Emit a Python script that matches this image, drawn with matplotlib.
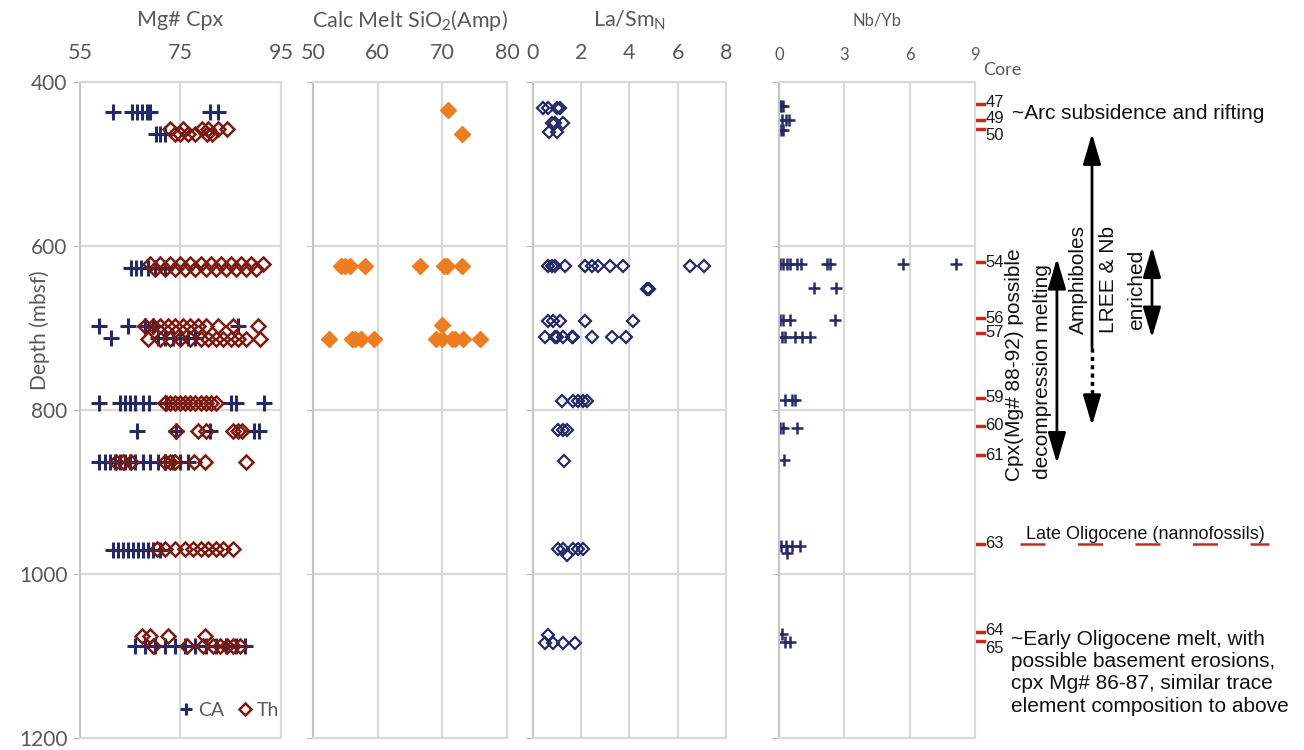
import matplotlib
matplotlib.use('Agg')
import matplotlib.pyplot as plt
import matplotlib.transforms as mtransforms

plt.rcParams['font.family'] = ['Lato', 'DejaVu Sans']
plt.rcParams['mathtext.default'] = 'regular'

# ---- data (depth in mbsf, value) ----
# Mg# Cpx, calc-alkaline (CA)
ca_depth = [437]*8 + [463]*3 + [627]*6 + [698]*5 + [712]*7 + [792]*11 + [826]*5 + [864]*15 + [971]*10 + [1088]*12
ca_mg = [61.6, 65.3, 66.3, 67.3, 68.3, 68.9, 80.8, 82.5,
         70.2, 70.9, 72.0,
         65.1, 66.1, 67.1, 68.5, 70.0, 72.0,
         58.7, 64.5, 68.0, 69.5, 86.4,
         61.2, 70.5, 72.0, 73.5, 75.0, 76.5, 78.0,
         58.7, 62.9, 64.0, 65.0, 66.0, 67.5, 68.8, 72.2, 85.0, 86.0, 91.7,
         66.3, 74.1, 80.8, 89.7, 90.7,
         58.7, 60.0, 61.0, 62.0, 63.0, 64.0, 65.0, 66.0, 67.5, 69.0, 70.5, 72.0, 73.5, 75.0, 76.5,
         61.6, 62.5, 63.5, 64.5, 65.5, 66.5, 67.5, 68.5, 69.5, 70.9,
         65.9, 68.0, 70.0, 72.0, 74.0, 76.0, 78.0, 80.0, 82.0, 84.0, 86.0, 87.8]

# Mg# Cpx, tholeiitic (Th)
th_depth = [457]*6 + [463]*6 + [622]*12 + [628]*11 + [697]*12 + [713]*13 + [792]*11 + [826]*6 + [864]*9 + [970]*10 + [1076]*4 + [1088]*8
th_mg = [72.9, 75.5, 79.3, 80.5, 82.4, 84.2,
         73.9, 74.9, 76.5, 77.9, 81.2, 80.2,
         69, 71, 73, 75, 77, 79, 81, 83, 85, 87, 89, 91.4,
         70, 72, 74, 76, 78, 80, 82, 84, 86, 88, 90,
         68, 69.5, 71, 72.5, 74, 75.5, 77, 78.5, 80, 82.5, 85.4, 90.4,
         68.5, 71, 73, 75, 77, 79, 80.5, 82, 83.5, 85, 86.5, 88, 90.8,
         72, 73, 74, 75, 76, 77, 78, 79, 80, 81, 82,
         74.1, 78.5, 80.1, 85.4, 86.4, 87.2,
         62.2, 63.5, 65.1, 72, 73, 73.9, 77.8, 79.8, 88,
         70.3, 72, 74, 76, 77.5, 79, 80.5, 82, 83.5, 85.4,
         67.3, 68.9, 72.6, 79.9,
         69.5, 76.3, 79.5, 81.4, 82.8, 84.2, 85.4, 86.8]

# calculated melt SiO2 from amphibole
amp_depth = [434, 463] + [625]*8 + [696] + [713]*11
amp_sio2 = [70.9, 73.1,
            54.3, 55.0, 55.7, 58.0, 66.5, 70.2, 70.7, 73.0,
            70.0,
            52.5, 56.0, 56.5, 57.5, 59.4, 69.1, 69.9, 71.5, 71.9, 73.2, 75.8]

# La/Sm normalised
lasm_depth = [432]*4 + [450]*3 + [461]*2 + [624]*11 + [652]*2 + [692]*5 + [711]*9 + [789]*5 + [824]*3 + [862] + [969]*5 + [977] + [1074] + [1084]*4
lasm = [0.43, 0.64, 0.98, 1.12,
        0.78, 0.91, 1.26,
        0.68, 0.98,
        0.64, 0.78, 0.91, 1.33, 2.16, 2.43, 2.71, 3.2, 3.75, 6.51, 7.07,
        4.72, 4.83,
        0.64, 0.84, 1.12, 2.16, 4.16,
        0.5, 0.91, 1.0, 1.26, 1.61, 1.65, 2.43, 3.27, 3.86,
        1.19, 1.67, 1.88, 2.09, 2.23,
        1.05, 1.26, 1.4,
        1.29,
        1.05, 1.26, 1.67, 1.88, 2.09,
        1.4,
        0.64,
        0.5, 0.83, 1.24, 1.74]

# Nb/Yb
nbyb_depth = [429]*3 + [446]*3 + [458]*2 + [622]*10 + [651]*2 + [690]*4 + [711]*5 + [788]*3 + [822]*3 + [861] + [966]*4 + [975] + [1073] + [1083]*2
nbyb = [0.05, 0.1, 0.2,
        0.15, 0.3, 0.45,
        0.1, 0.2,
        0.05, 0.2, 0.35, 0.5, 0.81, 0.99, 2.19, 2.34, 5.7, 8.15,
        1.6, 2.61,
        0.05, 0.17, 0.5, 2.58,
        0.12, 0.28, 0.73, 1.04, 1.42,
        0.28, 0.6, 0.73,
        0.05, 0.17, 0.81,
        0.23,
        0.1, 0.32, 0.6, 0.96,
        0.37,
        0.14,
        0.28, 0.5]

cores = ['47', '49', '50', '54', '56', '57', '59', '60', '61', '63', '64', '65']
core_depth = [427, 446, 457, 620, 688, 706, 785, 819, 855, 963, 1071, 1082]

navy = '#262A64'
red = '#7A1A10'
orange = '#EE7D21'
gridc = '#D9D9D9'
txtc = '#595959'
corec = '#C8281E'

fig = plt.figure(figsize=(13.04, 7.5), dpi=100)
bottom, height = 0.016, 0.8747
ax1 = fig.add_axes([0.0613, bottom, 0.1541, height])
ax2 = fig.add_axes([0.2400, bottom, 0.1488, height], sharey=ax1)
ax3 = fig.add_axes([0.4087, bottom, 0.1480, height], sharey=ax1)
ax4 = fig.add_axes([0.5974, bottom, 0.1503, height], sharey=ax1)

setup = [(ax1, (55, 95), [55, 75, 95], 'Mg# Cpx', 15.5),
         (ax2, (50, 80), [50, 60, 70, 80], 'Calc Melt SiO$_2$(Amp)', 15.5),
         (ax3, (0, 8), [0, 2, 4, 6, 8], 'La/Sm$_N$', 15.5),
         (ax4, (0, 9), [0, 3, 6, 9], 'Nb/Yb', 12)]
for ax, lim, ticks, title, fs in setup:
    ax.set_xlim(*lim)
    ax.set_xticks(ticks)
    ax.xaxis.tick_top()
    ax.tick_params(axis='x', length=0, pad=14, labelsize=fs, labelcolor=txtc)
    ax.tick_params(axis='y', length=5, color='#BFBFBF', direction='out', labelleft=False)
    ax.grid(True, color=gridc, lw=1.5)
    ax.set_axisbelow(True)
    for sp in ax.spines.values():
        sp.set_color(gridc)
        sp.set_linewidth(1.5)
    ax.spines['left'].set_color('#C8C4C4')
    ax.text(0.5, 1.094, title, transform=ax.transAxes, ha='center', va='center',
            fontsize=fs, color=txtc)

ax1.set_ylim(1200, 400)
ax1.set_yticks([400, 600, 800, 1000, 1200])
ax1.tick_params(axis='y', labelleft=True, labelsize=15, labelcolor=txtc, pad=4)
fig.text(0.0307, 0.56, 'Depth (mbsf)', rotation=90, ha='center', va='center',
         fontsize=15, color=txtc)

ax1.plot(ca_mg, ca_depth, ls='none', marker='+', ms=11, mew=2.2, color=navy, label='CA')
ax1.plot(th_mg, th_depth, ls='none', marker='D', ms=7.5, mew=1.8, mfc='none', mec=red, label='Th')
ax1.legend(loc='center right', bbox_to_anchor=(1.08, 0.042), ncol=2, frameon=False,
           handletextpad=0.1, columnspacing=0.6, fontsize=14, labelcolor=txtc,
           handlelength=1.0, markerscale=0.8)

ax2.plot(amp_sio2, amp_depth, ls='none', marker='D', ms=8, color=orange)
ax3.plot(lasm, lasm_depth, ls='none', marker='D', ms=6.5, mew=1.6, mfc='none', mec=navy)
ax4.plot(nbyb, nbyb_depth, ls='none', marker='+', ms=9, mew=1.8, color=navy)

# ---- core column and annotations (x in ax4 axes fraction, y in depth) ----
trans = mtransforms.blended_transform_factory(ax4.transAxes, ax4.transData)
label_off = {'47': -2, '49': -1, '50': 8, '64': -2, '65': 9}
for c, d in zip(cores, core_depth):
    ax4.plot([1.005, 1.045], [d, d], color=corec, lw=2.5, transform=trans, clip_on=False)
    ax4.text(1.052, d + label_off.get(c, 0), c, transform=trans, ha='left', va='center',
             fontsize=12, family='Liberation Sans', color='#1A1A1A')
ax4.text(1.04, 385, 'Core', transform=trans, ha='left', va='center', fontsize=13,
         color=txtc)

ann = dict(transform=trans, fontsize=15, family='Liberation Sans', color='#111111')
ax4.text(1.19, 438, '~Arc subsidence and rifting', ha='left', va='center', **ann)
ax4.text(1.185, 1068, '~Early Oligocene melt, with\npossible basement erosions,\n'
         'cpx Mg# 86-87, similar trace\nelement composition to above',
         ha='left', va='top', linespacing=1.22, **ann)
ax4.text(1.204, 745, 'Cpx(Mg# 88-92) possible', rotation=90, ha='center', va='center', **ann)
ax4.text(1.342, 753, 'decompression melting', rotation=90, ha='center', va='center', **ann)
ax4.text(1.526, 641, 'Amphiboles', rotation=90, ha='center', va='center', **ann)
ax4.text(1.679, 641, 'LREE & Nb', rotation=90, ha='center', va='center', **ann)
ax4.text(1.827, 654, 'enriched', rotation=90, ha='center', va='center', **ann)

ax4.text(1.87, 952, 'Late Oligocene (nannofossils)', transform=trans, ha='center',
         va='center', fontsize=13, family='Liberation Sans', color='#111111')
ax4.plot([1.23, 2.50], [963, 963], color=corec, lw=1.8, ls=(0, (10, 13)),
         transform=trans, clip_on=False)

head = '-|>,head_length=0.85,head_width=0.25'
dbl = '<|-|>,head_length=0.85,head_width=0.25'
arr = dict(xycoords=trans, textcoords=trans, annotation_clip=False)
ax4.annotate('', xy=(1.418, 865), xytext=(1.418, 615),
             arrowprops=dict(arrowstyle=dbl, color='k', lw=2, shrinkA=0, shrinkB=0,
                             mutation_scale=22), **arr)
ax4.annotate('', xy=(1.903, 712), xytext=(1.903, 601),
             arrowprops=dict(arrowstyle=dbl, color='k', lw=2, shrinkA=0, shrinkB=0,
                             mutation_scale=22), **arr)
ax4.annotate('', xy=(1.597, 463), xytext=(1.597, 724),
             arrowprops=dict(arrowstyle=head, color='k', lw=2, shrinkA=0, shrinkB=0,
                             mutation_scale=22), **arr)
ax4.plot([1.597, 1.597], [724, 803], color='k', lw=2.5, ls=(0, (1.2, 1.2)),
         transform=trans, clip_on=False)
ax4.annotate('', xy=(1.597, 819), xytext=(1.597, 801),
             arrowprops=dict(arrowstyle=head, color='k', lw=2, shrinkA=0, shrinkB=0,
                             mutation_scale=22), **arr)

fig.savefig('out.png', dpi=100)
